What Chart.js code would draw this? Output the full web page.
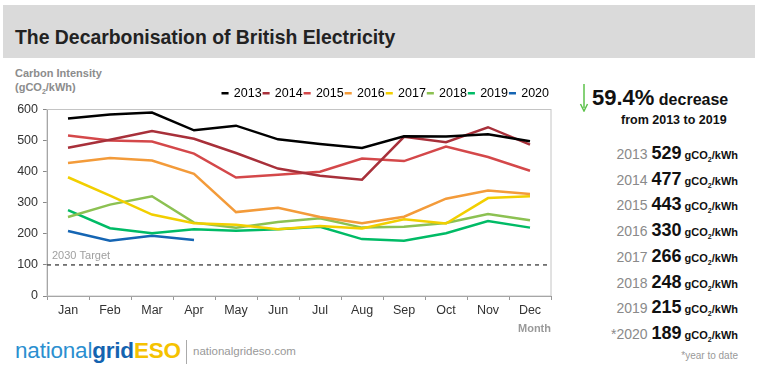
<!DOCTYPE html>
<html>
<head>
<meta charset="utf-8">
<script src="https://cdn.jsdelivr.net/npm/chart.js@4"></script>
<style>
  body { margin: 0; background: #fff; font-family: "Liberation Sans", Arial, sans-serif; }
  #page { position: relative; width: 759px; height: 370px; overflow: hidden; }
  #titlebar { position: absolute; left: 3px; top: 5px; width: 752px; height: 53px; background: #dadada; }
  #title { position: absolute; left: 15px; top: 26px; font-size: 19.4px; font-weight: bold; color: #222; }
  #ytitle { position: absolute; left: 15px; top: 66px; font-size: 11px; font-weight: bold; color: #8c8c8c; line-height: 14px; }
  #wrap { position: absolute; left: 0; top: 62px; width: 560px; height: 274px; }
  #panel { position: absolute; left: 560px; top: 80px; width: 199px; }
  .big { position: absolute; left: 32px; top: 5px; white-space: nowrap; font-weight: bold; color: #111; }
  .big b { font-size: 22px; }
  .big span { font-size: 16px; }
  .from { position: absolute; left: 61px; top: 33px; font-size: 12.5px; font-weight: bold; color: #111; }
  .row { position: absolute; right: 21px; white-space: nowrap; text-align: right; }
  .row .yr { font-size: 14px; color: #8a8a8a; }
  .row .val { font-size: 18px; font-weight: bold; color: #111; margin-left: 4px; }
  .row .unit { font-size: 11px; font-weight: bold; color: #111; margin-left: 3px; }
  .row sub { font-size: 7px; }
  #ytd { position: absolute; right: 21px; top: 270px; font-size: 10px; color: #999; }
  #logo { position: absolute; left: 15px; top: 338px; font-size: 22.5px; letter-spacing: -0.2px; }
  #logo .n { color: #2b8fd0; }
  #logo .g { color: #1463b0; font-weight: bold; }
  #logo .e { color: #f5c200; font-weight: bold; }
  #sep { position: absolute; left: 186px; top: 340px; width: 1px; height: 24px; background: #aaa; }
  #url { position: absolute; left: 193px; top: 345px; font-size: 11.5px; color: #999; }
</style>
</head>
<body>
<div id="page">
  <div id="titlebar"></div>
  <div id="title">The Decarbonisation of British Electricity</div>
  <div id="ytitle">Carbon Intensity<br>(gCO<sub style="font-size:7px">2</sub>/kWh)</div>
  <div id="wrap"><canvas id="c"></canvas></div>
  <div id="panel">
    <svg style="position:absolute;left:19px;top:4px" width="10" height="28">
      <line x1="5" y1="0" x2="5" y2="24" stroke="#5cc24a" stroke-width="1.5"/>
      <path d="M1.5 20 L5 27 L8.5 20" fill="none" stroke="#5cc24a" stroke-width="1.5"/>
    </svg>
    <div class="big"><b>59.4%</b> <span>decrease</span></div>
    <div class="from">from 2013 to 2019</div>
    <div id="rows"></div>
    <div id="ytd">*year to date</div>
  </div>
  <div id="logo"><span class="n">national</span><span class="g">grid</span><span class="e">ESO</span></div>
  <div id="sep"></div>
  <div id="url">nationalgrideso.com</div>
</div>
<script>
// monthly carbon intensity, gCO2/kWh
const months = ['Jan', 'Feb', 'Mar', 'Apr', 'May', 'Jun', 'Jul', 'Aug', 'Sep', 'Oct', 'Nov', 'Dec'];
const years = ['2013', '2014', '2015', '2016', '2017', '2018', '2019', '2020'];
const y2013 = [571, 584, 590, 533, 548, 504, 489, 476, 514, 513, 520, 498];
const y2014 = [477, 503, 531, 506, 460, 410, 387, 374, 512, 495, 543, 487];
const y2015 = [516, 500, 497, 458, 381, 390, 400, 442, 434, 481, 447, 403];
const y2016 = [428, 444, 436, 393, 270, 284, 254, 234, 255, 313, 339, 328];
const y2017 = [382, 323, 262, 234, 229, 215, 225, 217, 247, 233, 315, 321];
const y2018 = [254, 294, 321, 236, 220, 238, 250, 220, 223, 235, 264, 244];
const y2019 = [276, 218, 202, 215, 210, 215, 223, 183, 178, 202, 241, 220];
const y2020 = [209, 178, 194, 180];
const lineColors = ['#000000', '#a8303a', '#d4484a', '#f39b3a', '#f2cf00', '#8cc152', '#00bb66', '#1565b3'];
const yTicks = [0, 100, 200, 300, 400, 500, 600];
const targetValue = 100;

// yearly averages for the side panel
const avgYears = ['2013', '2014', '2015', '2016', '2017', '2018', '2019', '*2020'];
const avgValues = [529, 477, 443, 330, 266, 248, 215, 189];

var allData = [y2013, y2014, y2015, y2016, y2017, y2018, y2019, y2020];
var datasets = years.map(function (yr, i) {
  return {
    label: yr,
    data: allData[i],
    borderColor: lineColors[i],
    backgroundColor: lineColors[i],
    borderWidth: 2.5,
    pointRadius: 0,
    tension: 0
  };
});

// side panel rows
var rowsHtml = '';
avgYears.forEach(function (yr, i) {
  rowsHtml += '<div class="row" style="top:' + (63 + i * 25.7) + 'px"><span class="yr">' + yr +
    '</span><span class="val">' + avgValues[i] + '</span><span class="unit">gCO<sub>2</sub>/kWh</span></div>';
});
document.getElementById('rows').innerHTML = rowsHtml;

// box around plot + 2030 target line
var extras = {
  id: 'extras',
  beforeDatasetsDraw: function (chart) {
    var ctx = chart.ctx, a = chart.chartArea;
    var y = chart.scales.y.getPixelForValue(targetValue);
    ctx.save();
    ctx.strokeStyle = '#c4c4c4';
    ctx.lineWidth = 1;
    ctx.strokeRect(a.left, a.top, a.right - a.left, a.bottom - a.top);
    ctx.strokeStyle = '#555';
    ctx.lineWidth = 1.5;
    ctx.setLineDash([4, 4]);
    ctx.beginPath();
    ctx.moveTo(a.left, y);
    ctx.lineTo(a.right, y);
    ctx.stroke();
    ctx.setLineDash([]);
    ctx.fillStyle = '#a0a0a0';
    ctx.font = '11px "Liberation Sans", Arial';
    ctx.textBaseline = 'bottom';
    ctx.fillText('2030 Target', a.left + 5, y - 3);
    ctx.restore();
  }
};

var ctx = document.getElementById('c').getContext('2d');
var chart = new Chart(ctx, {
  type: 'line',
  data: { labels: months, datasets: datasets },
  options: {
    responsive: true,
    maintainAspectRatio: false,
    animation: false,
    layout: { padding: { top: 23, right: 9, left: 0, bottom: 0 } },
    plugins: {
      tooltip: { enabled: false },
      legend: {
        position: 'top',
        align: 'end',
        labels: {
          usePointStyle: true,
          pointStyle: 'line',
          boxWidth: 5,
          boxHeight: 5,
          padding: 2,
          color: '#000',
          font: { family: '"Liberation Sans", Arial', size: 12.5 }
        }
      }
    },
    scales: {
      x: {
        offset: true,
        afterFit: function (s) { s.height = 40; },
        grid: { drawOnChartArea: false, offset: true, tickLength: 4, color: '#999' },
        border: { color: '#888' },
        ticks: { color: '#333', padding: 3, font: { family: '"Liberation Sans", Arial', size: 12.5 } },
        title: {
          display: true, text: 'Month', align: 'end', color: '#9a9a9a', padding: 0,
          font: { family: '"Liberation Sans", Arial', size: 11, weight: 'bold' }
        }
      },
      y: {
        min: 0,
        max: 600,
        afterFit: function (s) { s.width = 47; },
        afterBuildTicks: function (s) { s.ticks = yTicks.map(function (v) { return { value: v }; }); },
        grid: { drawOnChartArea: false, tickLength: 4, color: '#888' },
        border: { color: '#888' },
        ticks: { color: '#333', padding: 5, font: { family: '"Liberation Sans", Arial', size: 12.5 } }
      }
    }
  },
  plugins: [extras]
});
</script>
</body>
</html>
